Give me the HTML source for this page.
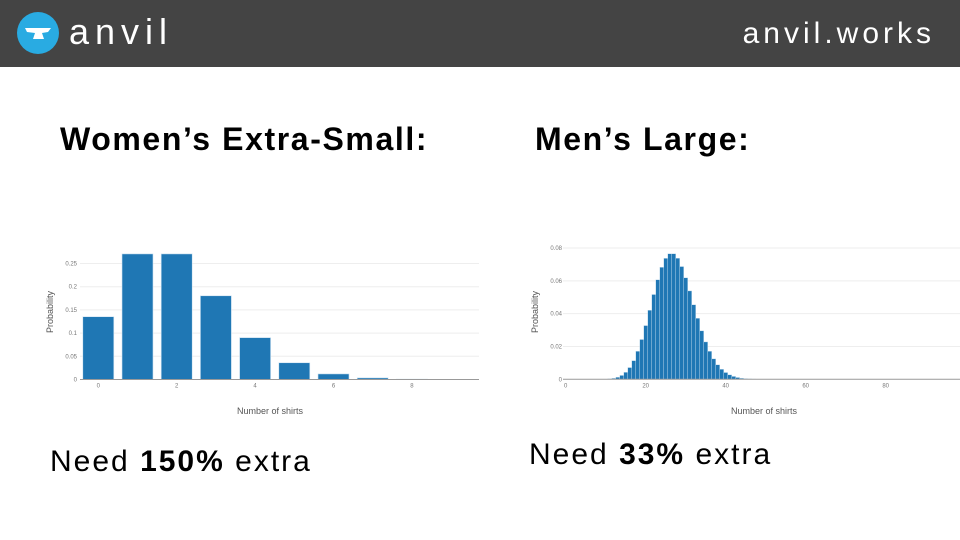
<!DOCTYPE html>
<html><head><meta charset="utf-8"><style>
body{margin:0;width:960px;height:540px;background:#fff;font-family:"Liberation Sans",sans-serif;overflow:hidden;position:relative}
.hdr{position:absolute;left:0;top:0;width:960px;height:67px;background:#444}
.t{position:absolute;font-weight:bold;font-size:32px;letter-spacing:1.6px;color:#000}
.n{position:absolute;font-size:30px;letter-spacing:2px;color:#000}
svg{position:absolute;left:0;top:0}
</style></head><body>
<div class="hdr"></div>
<svg width="960" height="540" id="s">
<circle cx="38" cy="33" r="21" fill="#29abe2"/>
<path d="M25 28 L51 28 L48 32 L42 33 L44 39 L33 39 L35 33 L27 32 Z" fill="#fff"/>
<text x="69" y="44" font-size="36" fill="#fff" font-family="Liberation Sans" letter-spacing="6">anvil</text>
<text x="935" y="43" font-size="30" fill="#fff" text-anchor="end" font-family="Liberation Sans" letter-spacing="4">anvil.works</text>
<g id="L" font-size="6" fill="#777"></g>
<g id="R" font-size="6" fill="#777"></g>
</svg>
<div class="t" style="left:60px;top:121px">Women’s Extra-Small:</div>
<div class="t" style="left:535px;top:121px">Men’s Large:</div>
<div class="n" style="left:50px;top:445px">Need <b>150%</b> extra</div>
<div class="n" style="left:529px;top:438px">Need <b>33%</b> extra</div>
<script>
function pois(l,k){let p=Math.exp(-l);for(let i=1;i<=k;i++)p*=l/i;return p}
const NS="http://www.w3.org/2000/svg";
function el(g,t,a,txt){const e=document.createElementNS(NS,t);for(const k in a)e.setAttribute(k,a[k]);if(txt!==undefined)e.textContent=txt;g.appendChild(e);return e}
let g=document.getElementById("L");
let y0=379.5,sy=464,x0=98.3,sx=39.2;
[0.05,0.1,0.15,0.2,0.25].forEach(v=>{let y=y0-v*sy;el(g,"line",{x1:80,x2:479,y1:y,y2:y,stroke:"#eee","stroke-width":1});el(g,"text",{x:77,y:y+2,"text-anchor":"end"},String(v))});
el(g,"text",{x:77,y:y0+2,"text-anchor":"end"},"0");
for(let k=0;k<10;k++){let p=pois(2,k);let h=p*sy;el(g,"rect",{x:x0+k*sx-15.5,y:y0-h,width:31,height:h,fill:"#1f77b4",stroke:"#cfe3f2","stroke-width":0.6})}
el(g,"line",{x1:80,x2:479,y1:y0,y2:y0,stroke:"#999","stroke-width":1});
[0,2,4,6,8].forEach(v=>el(g,"text",{x:x0+v*sx,y:y0+8,"text-anchor":"middle"},String(v)));
el(g,"text",{x:270,y:414,"text-anchor":"middle","font-size":9,fill:"#555"},"Number of shirts");
el(g,"text",{x:0,y:0,"text-anchor":"middle","font-size":9,fill:"#555",transform:"translate(53,312) rotate(-90)"},"Probability");
g=document.getElementById("R");
y0=379.3;sy=1641;x0=565.7;sx=4;
[0.02,0.04,0.06,0.08].forEach(v=>{let y=y0-v*sy;el(g,"line",{x1:563,x2:960,y1:y,y2:y,stroke:"#eee","stroke-width":1});el(g,"text",{x:562,y:y+2,"text-anchor":"end"},v.toFixed(2))});
el(g,"text",{x:562,y:y0+2,"text-anchor":"end"},"0");
for(let k=0;k<100;k++){let p=pois(27,k);let h=p*sy;if(h<0.2)continue;el(g,"rect",{x:x0+k*sx-2,y:y0-h,width:4,height:h,fill:"#1f77b4",stroke:"#cfe3f2","stroke-width":0.4})}
el(g,"line",{x1:563,x2:960,y1:y0,y2:y0,stroke:"#999","stroke-width":1});
[0,20,40,60,80].forEach(v=>el(g,"text",{x:x0+v*sx,y:y0+8,"text-anchor":"middle"},String(v)));
el(g,"text",{x:764,y:414,"text-anchor":"middle","font-size":9,fill:"#555"},"Number of shirts");
el(g,"text",{x:0,y:0,"text-anchor":"middle","font-size":9,fill:"#555",transform:"translate(538,312) rotate(-90)"},"Probability");
</script>
</body></html>
